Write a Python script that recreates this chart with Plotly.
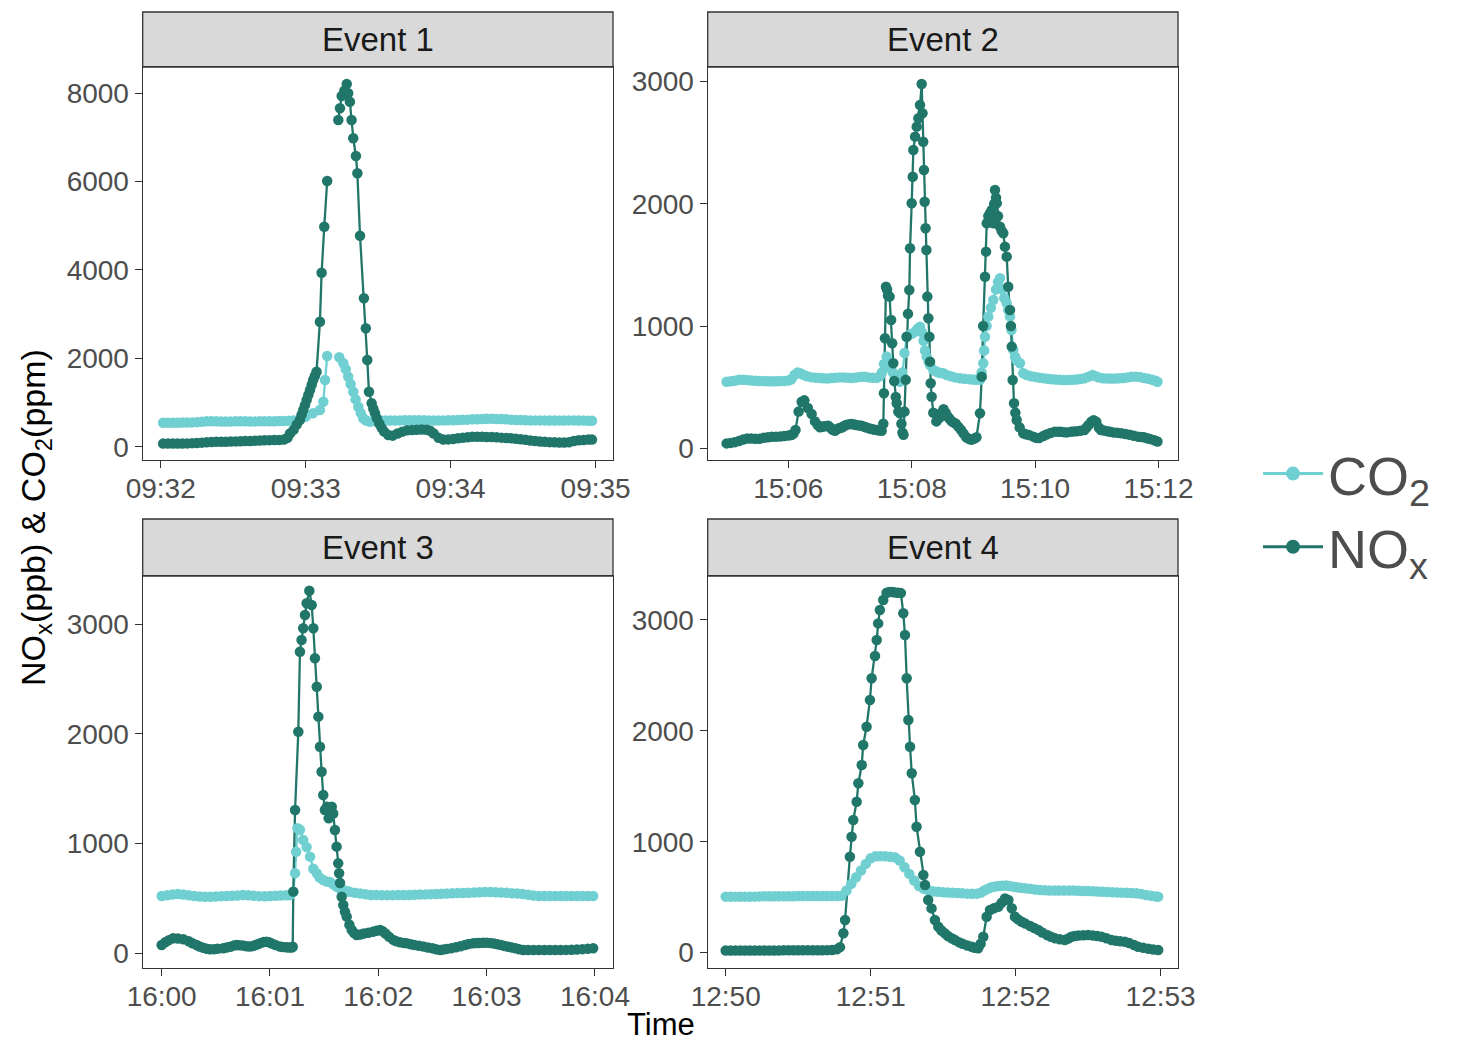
import pandas as pd
import plotly.graph_objects as go

# ---------------- data (seconds from the event start, value) ----------------
EVENTS = ["Event 1", "Event 2", "Event 3", "Event 4"]
EVENT_START = ["2020-01-01 09:32:00", "2020-01-01 15:05:00", "2020-01-01 16:00:00", "2020-01-01 12:50:00"]

E1_CO2 = [(1,540),(3,540),(5,540),(7,540),(9,545),(11,545),(13,550),(15,555),(17,565),(19,575),(21,575),(23,575),
          (25,570),(27,570),(29,570),(31,575),(33,575),(35,575),(37,570),(39,572),(41,575),(43,575),(45,575),(47,575),
          (49,580),(51,583),(53,588),(55,595),(57.6,640),(60,680),(63,755),(65.9,830),
          (67.3,1018),(68,1509),(68.9,2052),(71,None),(73.9,2022),(75.6,1886),(76.6,1750),(77.6,1583),(78.6,1420),
          (79.7,1244),(80.7,1070),(81.8,905),(82.8,760),(83.8,642),(85,590),(86.6,566),(88.5,580),(90.7,600),
          (93,595),(95,590),(97,590),(99,595),(101,598),(103,600),(105,600),(107,600),(109,600),(111,595),(113,592),
          (115,590),(117,595),(119,598),(121,600),(123,605),(125,608),(127,612),(129,618),(131,622),(133,626),
          (135,630),(137,630),(139,628),(141,625),(143,618),(145,612),(147,605),(149,602),(151,598),(153,595),
          (155,595),(157,595),(159,595),(161,592),(163,590),(165,590),(167,592),(169,595),(171,595),(173,592),
          (175,590),(177,585),(178.5,585)]
E1_NOX = [(1,70),(3,70),(5,70),(7,70),(9,72),(11,75),(13,80),(15,85),(17,92),(19,100),(21,105),(23,110),(25,110),
          (27,112),(29,115),(31,120),(33,125),(35,130),(37,130),(39,135),(41,140),(43,145),(45,148),(47,150),(49,150),
          (51,160),(52.5,200),(53.5,300),(55,380),(56.3,500),(57.6,604),(58.3,720),(59,830),
          (59.7,940),(60.4,1056),(61.1,1170),(61.8,1283),(62.5,1400),(63.1,1509),(63.8,1600),(64.5,1697),(65.9,2828),
          (66.6,3936),(67.7,4977),(68.9,6010),(71,None),(73.5,7390),(74.2,7654),(74.9,7933),(76,8050),(77,8204),
          (77.6,7994),(78.3,7804),(79,7390),(79.7,6976),(80.8,6576),(81.4,6184),(82.5,4773),(84.1,3357),(84.9,2678),
          (85.5,1961),(86.2,1244),(87.3,982),(88,860),(88.7,755),(89.5,640),(90.5,520),(91.5,420),(92.5,340),(94.2,265),
          (96,250),(98,300),(100,340),(102,370),(104,375),(106,385),(108,390),(110,385),(111.5,360),(113,300),(115,200),
          (117,160),(119,165),(121,175),(123,190),(125,200),(127,215),(129,225),(131,225),(133,225),(135,220),
          (137,218),(139,212),(141,205),(143,198),(145,192),(147,180),(149,168),(151,155),(153,140),(155,128),
          (157,118),(159,110),(161,103),(163,98),(165,95),(167,95),(169,100),(171,130),(173,145),(175,152),
          (177,160),(178.5,160)]

E2_CO2 = [(0,545),(4,548),(8,552),(12,560),(16,560),(20,558),(24,555),(28,552),(32,550),(36,550),(40,548),(44,548),
          (48,548),(52,550),(56,550),(60,555),(63,565),(66,600),(69,620),(72,612),(75,600),(78,590),(82,582),(86,578),
          (90,575),(94,572),(98,570),(102,575),(106,578),(110,580),(114,580),(118,577),(122,575),(126,580),(130,584),
          (134,585),(138,580),(142,577),(146,576),(149,590),(151,620),(153,690),(155.7,750),(158,700),(160,650),
          (162.1,614),(165,570),(168.6,545),(171,620),(173,780),(175.1,913),(178,930),(181,940),(184,960),(186,980),
          (188.1,995),(190,950),(191.5,880),(193,800),(194.6,750),(196.5,710),(198,680),(201,641),(203.5,630),
          (206,620),(208,616),(210.7,614),(214,600),(218,590),(222,580),(226.9,573),(231,568),(236,565),(240,562),
          (243,560),(246.4,560),(248,620),(249.6,696),(250.5,800),(251.3,913),(252.8,1000),
          (254.5,1077),(257,1150),(259.4,1214),(262,1300),(264,1360),(265.9,1391),(268,1300),(270,1230),(272.4,1187),
          (274,1130),(275.6,1077),(277,968),(278.8,805),(280.5,750),(282,720),(285.3,696),(288.5,614),(292,600),
          (296,590),(300,584),(304,578),(308,574),(312,568),(316,565),(320,562),(324,560),(328,558),(332,558),
          (336,560),(340,563),(344,567),(348,572),(352,585),(356,600),(359,590),(362,580),(366,573),(370,570),
          (374,570),(378,570),(382,572),(386,575),(390,580),(394,585),(398,586),(402,583),(406,575),(410,568),
          (414,560),(417,552),(419,545)]
E2_NOX = [(0,40),(4,44),(8,50),(12,60),(16,72),(20,80),(24,80),(28,77),(32,78),(36,86),(40,90),(44,94),(48,95),
          (52,97),(56,100),(60,105),(63,108),(65,120),(67,150),(70,300),(73,380),(75.6,392),(79,330),(82.7,280),
          (86,220),(88.5,190),(90.8,171),(93,176),(95,180),(97,183),(98.9,184),(101,168),(103,152),(105.4,143),
          (108,160),(110,165),(112,170),(114,180),(116,190),(119,196),(121.6,198),(124,194),(126,190),(129,187),
          (131.3,184),(134,176),(136,170),(139,162),(141.1,157),(144,152),(146,150),(148.5,146),(150.8,143),
          (152.4,200),(153,450),(154,900),(155,1322),(156,1300),(157,1250),(158.5,1241),
          (160,1050),(161,859),(162.1,696),(163,550),(164.5,420),(165.4,368),(167,300),(168.6,286),(170,200),(171,130),
          (172,110),(173,300),(174.2,560),(175.1,913),(176.4,1100),(177.7,1295),(178.4,1637),(180,2005),(181,2222),
          (181.6,2441),(183.3,2550),(184.9,2632),(186.5,2700),(188.1,2809),(189.7,2981),(190.5,2741),(191.2,2509),
          (191.9,2277),(192.6,2018),(193.5,1800),(194.3,1623),(195.2,1241),(196.2,1064),(197.2,913),(197.8,709),
          (198.5,532),(199.4,422),(201,290),(204,220),(207,250),(209,290),(211,320),(213,290),(215,260),(217,240),
          (219,220),(221,210),(223,200),(225.5,175),(228,150),(230.5,120),(233,90),(235.5,78),(238,70),(240.5,78),
          (243,90),(246.4,286),(248.1,586),(249.5,1000),(251.3,1404),(252.3,1609),(253,1841),
          (254.5,1900),(256.2,1923),(257.8,1950),(259.4,1841),(260.2,2000),(261,2114),(262,2050),(262.7,2005),
          (264,1900),(265.9,1813),(267.5,1780),(269.1,1759),(270.7,1650),(272.4,1568),(273.9,1322),(275.6,1132),
          (276.5,1000),(277.3,832),(278.2,559),(279.5,368),(280.8,290),(282.1,232),(285,170),(288.5,123),(291,115),
          (294,108),(298.3,95),(301,85),(304,84),(308,100),(311,112),(315,125),(319,136),(322,136),(325,135),
          (328,132),(331,130),(335,136),(338,138),(341,140),(344,144),(348,150),(350,170),(352,190),(354.7,218),
          (357,230),(359.5,218),(362,170),(364,150),(367,145),(370,140),(373,135),(376,130),(380,126),(384,123),
          (388,117),(392,110),(396,102),(400,95),(403,93),(406,90),(409,82),(412,75),(416,65),(419,55)]

E3_CO2 = [(0,522),(3,528),(6,536),(9,541),(12,535),(15,528),(18,522),(21,518),(24,516),(27,516),(30,518),(33,521),
          (36,522),(39,524),(42,527),(45,531),(48,528),(51,524),(54,521),(57,520),(60,522),(63,524),(66,526),(69,529),
          (71,530),(72.9,560),(73.9,729),(74.5,926),(75.2,1140),
          (76.6,1125),(78.4,1033),(80.3,968),(82.2,881),(84,770),(85.9,729),(87.5,690),(89.5,668),(91.5,655),(93.2,651),
          (95,630),(96.9,607),(98.8,590),(100.6,578),(102.5,568),(104,560),(107,552),(110,545),(113,538),(116,532),
          (119,531),(122,530),(125,530),(128,530),(131,531),(134,531),(137,531),(140,533),(143,535),(146,537),
          (149,539),(152,541),(155,543),(158,545),(161,547),(164,549),(167,550),(170,552),(173,554),(176,556),
          (179,558),(182,559),(185,557),(188,554),(191,551),(194,548),(197,545),(200,540),(203,533),(206,527),
          (209,523),(212,522),(215,522),(218,522),(221,522),(224,522),(227,522),(230,522),(233,522),(236,522),
          (239,522)]
E3_NOX = [(0,76),(2,100),(4,120),(6.4,137),(9,135),(12,128),(15,110),(17,92),(19.4,76),(21,62),(23,50),(25,42),
          (26.8,36),(29,38),(31,42),(34.1,46),(36,52),(38,60),(40,70),(41.5,76),(43,74),(45,70),(47,65),(48.9,61),
          (50.5,66),(52,75),(53.5,85),(55,95),(56.5,102),(58.1,106),(59.5,100),(61,90),(63,75),(65.5,61),(67,58),
          (69,55),(70.5,53),(72,52),(72.6,60),(72.9,562),
          (73.9,1306),(75.7,2020),(76.6,2749),(77.5,2856),(78.4,2963),(79.4,3084),(80.3,3190),(81.8,3305),(83.1,3175),
          (84,2963),(84.9,2689),(85.9,2430),(86.8,2157),(87.7,1883),(88.6,1655),(89.5,1443),(90.4,1306),(91.5,1336),
          (92.5,1230),(93.3,1290),(94.2,1336),(95,1275),(96,1124),(96.9,972),(97.8,820),(98.3,729),(98.8,640),
          (99.7,516),(100.6,440),(101.5,380),(102.5,334),(104,260),(105.3,213),(106.6,185),(108,167),(110,172),
          (112,180),(114.5,188),(117,197),(119,205),(121,213),(122.5,200),(124,180),(126,150),(128.3,122),(130,110),
          (132,100),(134,95),(135.7,91),(138,82),(140,75),(142.5,68),(145,61),(147.5,52),(150,45),(152,37),
          (154.2,30),(156,35),(158,40),(160.5,47),(163,55),(165.5,65),(168,75),(170,84),(172.6,91),(174.5,93),
          (176,95),(178,96),(180,97),(182,94),(184,90),(186,83),(188,75),(190,67),(192,60),(194,52),(196,45),
          (198,37),(200.3,30),(203,30),(206,30),(209,30),(212,30),(215,30),(218,30),(221,30),(224,31),(227,33),
          (230,35),(233,38),(236,42),(239,46)]

E4_CO2 = [(0,505),(2,505),(4,505),(6,505),(8,505),(10,505),(12,505),(14,507),(16,508),(18,508),(20,508),(22,508),
          (24,508),(26,508),(28,509),(30,510),(32,510),(34,510),(36,510),(38,510),(40,510),(42,510),(44,510),(46,511),
          (48,512),(50,560),(52,620),(54,680),(56,740),(58,800),(60,850),(62,868),
          (64,870),(66,868),(68,865),(70,860),(72,830),(74,770),(76,710),(78,650),(80,600),(82,575),(84,560),(86,552),
          (88,548),(90,545),(92,542),(94,540),(96,538),(98,535),(100,532),(102,530),(104,532),(105.5,540),(107,560),
          (108.5,575),(110,590),(111.5,596),(113,600),(114.5,603),(116,605),(117.5,600),(119,595),(120.5,590),
          (122,585),(124,580),(126,575),(128,570),(130,565),(132,563),(134,561),(136,560),(138,560),(140,560),
          (142,560),(144,560),(146,558),(148,556),(150,555),(152,553),(154,551),(156,549),(158,547),(160,545),
          (162,543),(164,541),(166,539),(168,537),(170,535),(172,528),(174,520),(176,512),(178,507),(179,505)]
E4_NOX = [(0,20),(2,20),(4,20),(6,20),(8,20),(10,20),(12,20),(14,20),(16,20),(18,20),(20,20),(22,20),(24,21),
          (26,21),(28,22),(30,22),(32,22),(34,22),(36,22),(38,22),(40,22),(42,23),(44,24),(46,30),
          (47.3,50),(48.7,175),(49.4,295),(51.4,865),(52.1,1045),(52.8,1195),(54.2,1360),(54.9,1526),
          (56.3,1691),(56.9,1871),(58.3,2036),(59.7,2277),(60.4,2472),(61.8,2673),(62.5,2817),(63.1,2967),(63.8,3087),
          (65.2,3178),(66.6,3243),(67.7,3250),(68.9,3250),(70.1,3245),(71.4,3243),(72.5,3240),(73.5,3058),(74.2,2862),
          (74.9,2472),(75.6,2096),(76.3,1856),(77,1616),(78.3,1376),(79,1135),(80.4,910),(81.8,700),(82.5,610),
          (83.8,474),(85.2,399),(86.6,294),(88,234),(89.3,200),(90.7,174),(92,150),(93.5,130),(94.9,114),(96.5,95),
          (98,80),(100,65),(101.8,54),(103,45),(104.5,39),(105.5,80),
          (106.6,144),(108,324),(109.4,384),(111,400),(112.8,414),(114.2,450),(115.6,489),(117,474),(118.4,400),
          (119.7,324),(121,300),(122.5,279),(124,262),(126,240),(127.7,222),(129.4,204),(131,182),(133,160),
          (134.6,143),(136.3,129),(138.3,120),(140.4,114),(141.8,128),(143.1,144),(144.5,150),(146,155),(148,157),
          (150,159),(152,155),(153.8,150),(155.6,144),(157.6,130),(159.7,114),(161.5,108),(163.3,103),(165.2,99),
          (167,88),(169,70),(170.7,54),(172.8,45),(175,35),(177,28),(179,24)]

CO2_SERIES = [E1_CO2, E2_CO2, E3_CO2, E4_CO2]
NOX_SERIES = [E1_NOX, E2_NOX, E3_NOX, E4_NOX]

Y_TICKS = [[0, 2000, 4000, 6000, 8000], [0, 1000, 2000, 3000], [0, 1000, 2000, 3000], [0, 1000, 2000, 3000]]
X_TICKS = [["09:32", "09:33", "09:34", "09:35"], ["15:06", "15:08", "15:10", "15:12"],
           ["16:00", "16:01", "16:02", "16:03", "16:04"], ["12:50", "12:51", "12:52", "12:53"]]
Y_RANGES = [[-301, 8589], [-96, 3120], [-134, 3439], [-138, 3394]]
X_RANGES_S = [[-7.45, 187.2], [-18.4, 439], [-10.5, 250], [-7.45, 187.2]]

# ---------------- styling ----------------
FONT = "Liberation Sans, Arial, sans-serif"
CO2_COLOR = "#70CFD1"
NOX_COLOR = "#21766A"
W, H = 1460, 1043

# panel pixel boxes (left, right, top, bottom)
PANELS = [(142.7, 613, 67, 460), (707.7, 1178, 67, 460), (142.7, 613, 576, 968), (707.7, 1178, 576, 968)]
STRIPS = [(12, 67), (12, 67), (519, 576), (519, 576)]


def unzip(pairs, base):
    b = pd.Timestamp(base)
    xs = [b + pd.Timedelta(seconds=t) for t, _ in pairs]
    ys = [v for _, v in pairs]
    return xs, ys


fig = go.Figure()

for i in range(4):
    ax = "" if i == 0 else str(i + 1)
    xref, yref = "x" + ax, "y" + ax
    cx, cy = unzip(CO2_SERIES[i], EVENT_START[i])
    nx, ny = unzip(NOX_SERIES[i], EVENT_START[i])
    common = dict(xaxis=xref, yaxis=yref, showlegend=False, hoverinfo="skip")
    fig.add_trace(go.Scatter(x=cx, y=cy, mode="lines", line=dict(color=CO2_COLOR, width=2.3), **common))
    fig.add_trace(go.Scatter(x=nx, y=ny, mode="lines", line=dict(color=NOX_COLOR, width=2.3), **common))
    fig.add_trace(go.Scatter(x=cx, y=cy, mode="markers", marker=dict(color=CO2_COLOR, size=10.5), **common))
    fig.add_trace(go.Scatter(x=nx, y=ny, mode="markers", marker=dict(color=NOX_COLOR, size=10.5), **common))

    l, r, t, b = PANELS[i]
    base = pd.Timestamp(EVENT_START[i])
    day = base.strftime("%Y-%m-%d")
    xr = [base + pd.Timedelta(seconds=X_RANGES_S[i][0]), base + pd.Timedelta(seconds=X_RANGES_S[i][1])]
    axis_style = dict(showline=True, linecolor="#333333", linewidth=1.3, mirror=True, ticks="outside",
                      ticklen=7, tickwidth=1.3, tickcolor="#333333", showgrid=False, zeroline=False,
                      automargin=False, tickfont=dict(family=FONT, size=28, color="#4d4d4d"))
    fig.update_layout(**{
        "xaxis" + ax: dict(domain=[l / W, r / W], anchor=yref, type="date", range=xr, ticklabelstandoff=-4,
                           tickvals=[f"{day} {tk}:00" for tk in X_TICKS[i]], ticktext=X_TICKS[i], **axis_style),
        "yaxis" + ax: dict(domain=[1 - b / H, 1 - t / H], anchor=xref, range=Y_RANGES[i],
                           tickvals=Y_TICKS[i], ticktext=[str(v) for v in Y_TICKS[i]], **axis_style),
    })
    st, sb = STRIPS[i]
    fig.add_shape(type="rect", xref="paper", yref="paper", x0=l / W, x1=r / W, y0=1 - sb / H, y1=1 - st / H,
                  fillcolor="#d9d9d9", line=dict(color="#333333", width=1.3), layer="below")
    fig.add_annotation(text=EVENTS[i], xref="paper", yref="paper", x=(l + r) / 2 / W, y=1 - (st + sb) / 2 / H,
                       showarrow=False, font=dict(family=FONT, size=33, color="#1a1a1a"),
                       xanchor="center", yanchor="middle")

# legend entries
fig.add_trace(go.Scatter(x=[None], y=[None], mode="lines+markers", name="CO<sub>2</sub>",
                         line=dict(color=CO2_COLOR, width=3), marker=dict(color=CO2_COLOR, size=14)))
fig.add_trace(go.Scatter(x=[None], y=[None], mode="lines+markers", name="NO<sub>x</sub>",
                         line=dict(color=NOX_COLOR, width=3), marker=dict(color=NOX_COLOR, size=14)))

fig.add_annotation(text="NO<sub>x</sub>(ppb) &amp; CO<sub>2</sub>(ppm)", xref="paper", yref="paper",
                   x=35 / W, y=1 - 518 / H, textangle=-90, showarrow=False,
                   font=dict(family=FONT, size=34, color="black"), xanchor="center", yanchor="middle")
fig.add_annotation(text="Time", xref="paper", yref="paper", x=661 / W, y=1 - 1024 / H, showarrow=False,
                   font=dict(family=FONT, size=31, color="black"), xanchor="center", yanchor="middle")

fig.update_layout(
    width=W, height=H, margin=dict(l=0, r=0, t=0, b=0, autoexpand=False),
    paper_bgcolor="white", plot_bgcolor="white",
    font=dict(family=FONT),
    legend=dict(x=1258 / W, y=1 - 432 / H, xanchor="left", yanchor="top", bgcolor="rgba(0,0,0,0)",
                font=dict(family=FONT, size=54, color="#4d4d4d"), itemwidth=60, tracegroupgap=0),
)

fig.write_html("out.html")
